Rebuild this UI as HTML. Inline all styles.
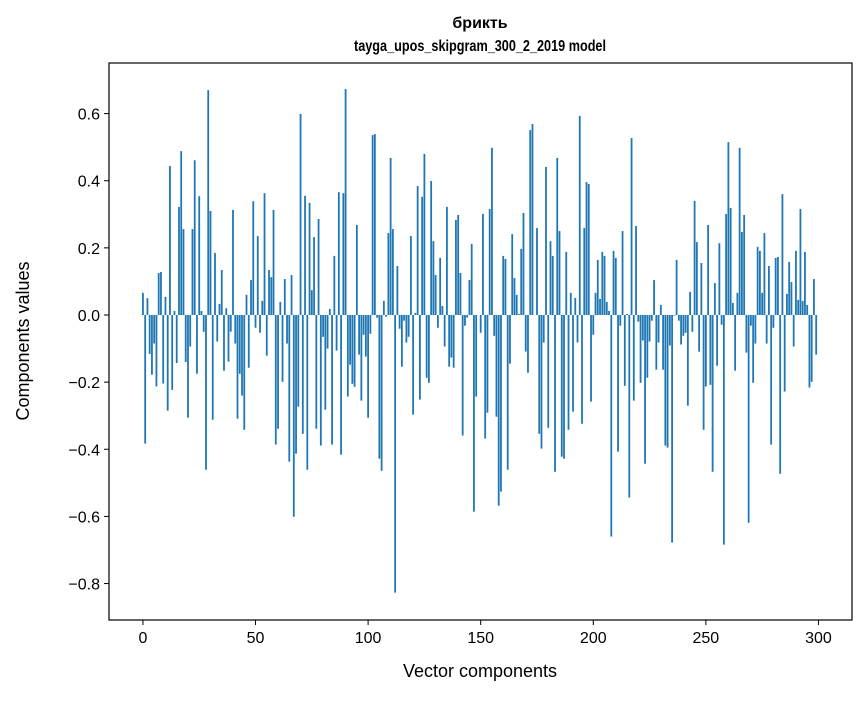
<!DOCTYPE html>
<html><head><meta charset="utf-8"><style>
body{margin:0;background:#fff;}
svg text{font-family:"Liberation Sans","DejaVu Sans",sans-serif;fill:#000;}
</style></head><body>
<svg id="chart" width="867" height="696" xmlns="http://www.w3.org/2000/svg">
<rect width="867" height="696" fill="#fff"/>
<text x="480" y="28" text-anchor="middle" font-size="16" font-weight="bold">брикть</text>
<text x="480" y="51" text-anchor="middle" font-size="16" font-weight="bold" textLength="252" lengthAdjust="spacingAndGlyphs">tayga_upos_skipgram_300_2_2019 model</text>
<g id="bars"></g>
<rect x="109" y="63" width="743" height="557" fill="none" stroke="#000" stroke-width="1.2"/>
<g id="xticks"></g>
<g id="yticks"></g>
<text x="480" y="677" text-anchor="middle" font-size="18">Vector components</text>
<text x="0" y="0" transform="translate(29,341) rotate(-90)" text-anchor="middle" font-size="18">Components values</text>
</svg>
<script>
const values = [0.066,-0.383,0.050,-0.116,-0.178,-0.085,-0.213,0.125,0.128,-0.204,0.054,-0.285,0.444,-0.223,0.012,-0.143,0.322,0.488,0.256,-0.140,
-0.306,-0.094,0.256,0.461,-0.175,0.354,0.012,-0.050,-0.461,0.670,0.310,-0.312,0.185,-0.079,0.033,0.134,-0.166,0.020,-0.139,-0.050,
0.313,-0.085,-0.309,-0.175,-0.240,-0.342,0.060,-0.157,0.104,0.339,-0.038,0.235,-0.053,0.042,0.363,-0.121,0.134,0.113,0.313,-0.386,
-0.339,0.039,-0.199,0.107,-0.085,-0.437,0.119,-0.601,-0.413,-0.273,0.599,-0.354,0.355,-0.461,0.334,0.074,0.232,-0.339,0.286,-0.389,
-0.065,-0.282,-0.100,0.018,-0.386,0.176,-0.106,0.366,-0.416,0.363,0.673,-0.243,-0.148,-0.205,-0.214,0.268,-0.118,-0.255,-0.059,-0.124,
-0.306,-0.056,0.536,0.539,-0.008,-0.428,-0.464,0.042,-0.005,0.244,0.468,0.256,-0.827,0.146,-0.041,-0.154,-0.017,-0.082,-0.065,0.235,
-0.297,0.006,0.384,-0.252,0.352,0.480,-0.187,-0.202,0.399,0.220,0.119,-0.038,0.170,0.027,-0.094,0.322,-0.154,-0.127,-0.157,0.283,
0.298,0.125,-0.359,-0.032,-0.008,0.104,0.212,-0.586,-0.243,0.0,-0.053,0.301,-0.368,-0.291,0.316,0.498,-0.062,-0.303,-0.568,-0.526,
0.176,0.167,-0.461,-0.145,0.241,0.110,0.060,0.003,0.197,0.304,-0.109,-0.172,0.551,0.569,0.0,0.259,-0.354,-0.398,-0.082,0.441,
-0.336,0.220,0.176,-0.467,0.468,0.250,-0.422,-0.428,0.188,-0.342,0.066,-0.288,0.051,-0.082,0.593,-0.324,0.259,0.396,0.390,-0.258,
-0.059,0.066,0.164,0.048,0.188,0.176,0.039,0.012,-0.660,0.191,0.170,-0.407,-0.032,0.250,-0.211,0.003,-0.544,0.527,-0.255,0.265,
-0.020,-0.202,-0.076,-0.443,-0.187,-0.079,-0.017,0.104,-0.163,-0.082,0.030,-0.163,-0.389,-0.395,-0.091,-0.678,-0.002,0.164,-0.017,-0.088,
-0.062,-0.053,-0.270,0.069,-0.050,0.340,0.217,-0.109,0.155,-0.342,-0.213,0.268,-0.208,-0.467,0.095,-0.151,0.214,-0.029,-0.684,0.301,
0.515,0.319,0.036,-0.166,0.066,0.498,0.247,0.298,-0.112,-0.619,-0.032,-0.202,-0.085,0.203,0.191,0.066,0.244,-0.085,0.146,-0.386,
-0.038,0.170,0.173,-0.473,0.360,-0.228,0.063,0.158,0.098,-0.094,0.191,0.045,0.316,0.042,0.188,0.030,-0.216,-0.199,0.107,-0.118];
const xTicks = [0,50,100,150,200,250,300];
const yTicks = [0.6,0.4,0.2,0.0,-0.2,-0.4,-0.6,-0.8];
const NS = "http://www.w3.org/2000/svg";
const X0 = 109, X1 = 852, Y0 = 63, Y1 = 620;
const xMin = -15.07, xMax = 314.9, yMin = -0.9086, yMax = 0.7507;
function xs(v){ return X0 + (v - xMin) / (xMax - xMin) * (X1 - X0); }
function ys(v){ return Y1 - (v - yMin) / (yMax - yMin) * (Y1 - Y0); }
const barsG = document.getElementById('bars');
values.forEach((v, i) => {
  const r = document.createElementNS(NS, 'rect');
  const xa = xs(i - 0.4), xb = xs(i + 0.4);
  const y0 = ys(0), yv = ys(v);
  r.setAttribute('x', xa);
  r.setAttribute('width', xb - xa);
  r.setAttribute('y', Math.min(y0, yv));
  r.setAttribute('height', Math.abs(yv - y0));
  r.setAttribute('fill', '#1f77b4');
  
  
  barsG.appendChild(r);
});
const xg = document.getElementById('xticks');
xTicks.forEach(t => {
  const x = xs(t);
  const l = document.createElementNS(NS, 'line');
  l.setAttribute('x1', x); l.setAttribute('x2', x);
  l.setAttribute('y1', Y1); l.setAttribute('y2', Y1 + 5);
  l.setAttribute('stroke', '#000');
  
  
  xg.appendChild(l);
  const tx = document.createElementNS(NS, 'text');
  tx.setAttribute('x', x); tx.setAttribute('y', Y1 + 23);
  tx.setAttribute('text-anchor', 'middle');
  tx.setAttribute('font-size', '16');
  tx.textContent = String(t);
  
  
  xg.appendChild(tx);
});
const yg = document.getElementById('yticks');
yTicks.forEach(t => {
  const y = ys(t);
  const l = document.createElementNS(NS, 'line');
  l.setAttribute('x1', X0 - 5); l.setAttribute('x2', X0);
  l.setAttribute('y1', y); l.setAttribute('y2', y);
  l.setAttribute('stroke', '#000');
  
  
  yg.appendChild(l);
  const tx = document.createElementNS(NS, 'text');
  tx.setAttribute('x', X0 - 9); tx.setAttribute('y', y + 6);
  tx.setAttribute('text-anchor', 'end');
  tx.setAttribute('font-size', '16');
  tx.textContent = (t < 0 ? '\u2212' : '') + Math.abs(t).toFixed(1);
  
  
  yg.appendChild(tx);
});
</script>
</body></html>
